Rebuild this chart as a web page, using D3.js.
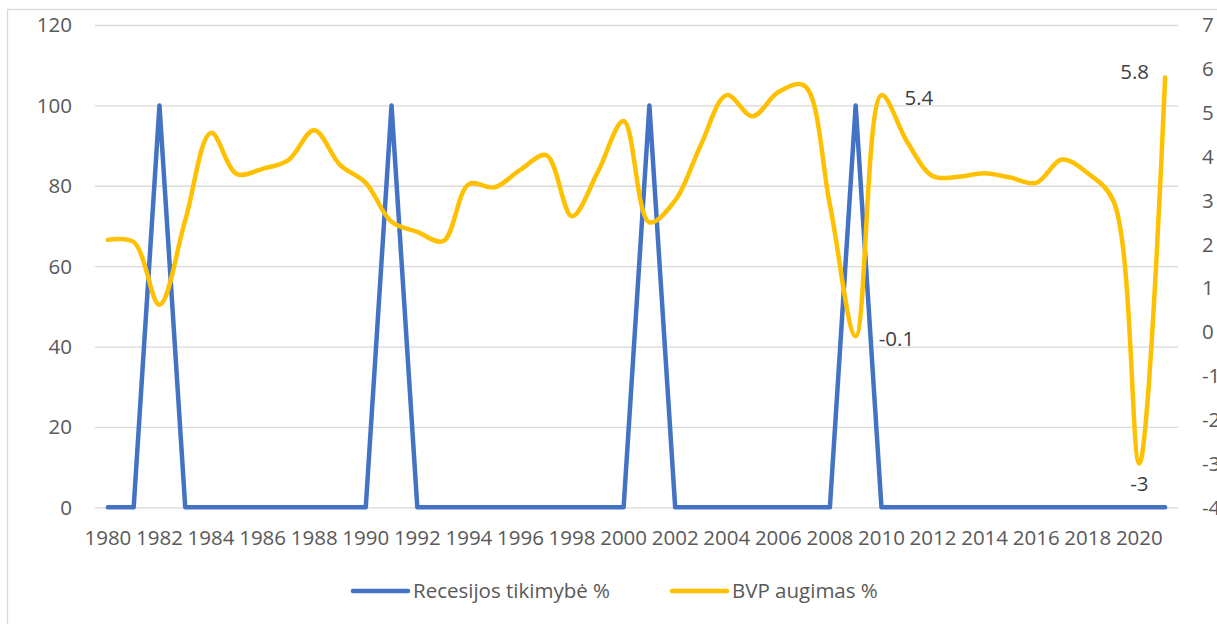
<!DOCTYPE html>
<meta charset="utf-8">
<html>
<head>
  <script src="https://d3js.org/d3.v7.min.js"></script>
  <style>
    body { margin: 0; background: #fff; }
    text { font-family: 'Open Sans', sans-serif; }
    .tick-label { font-size: 20.5px; fill: #595959; }
    .data-label { font-size: 20.5px; fill: #404040; }
    .legend-label { font-size: 20.5px; fill: #595959; }
    .grid line { stroke: #d9d9d9; stroke-width: 1.3; }
  </style>
</head>
<body>
<script>
  // categories (years)
  var years = d3.range(1980, 2022);

  // recession probability %
  var recession = [0, 0, 100, 0, 0, 0, 0, 0, 0, 0,
                   0, 100, 0, 0, 0, 0, 0, 0, 0, 0,
                   0, 100, 0, 0, 0, 0, 0, 0, 0, 100,
                   0, 0, 0, 0, 0, 0, 0, 0, 0, 0,
                   0, 0];

  // GDP growth %
  var gdp = [2.1, 2.05, 0.62, 2.55, 4.54, 3.6, 3.72, 3.92, 4.6, 3.81,
             3.4, 2.51, 2.28, 2.07, 3.37, 3.3, 3.7, 4.03, 2.64, 3.65,
             4.81, 2.5, 3.0, 4.27, 5.4, 4.92, 5.47, 5.62, 2.9, -0.1,
             5.4, 4.33, 3.55, 3.54, 3.62, 3.52, 3.4, 3.93, 3.62, 2.98,
             -3, 5.8];

  // tick labels
  var leftTicks = [0, 20, 40, 60, 80, 100, 120];
  var rightTicks = [-4, -3, -2, -1, 0, 1, 2, 3, 4, 5, 6, 7];
  var xLabels = years.filter(d => d % 2 === 0);

  // labelled points
  var labelled = [
    { year: 2009, text: "-0.1", pos: "right" },
    { year: 2010, text: "5.4", pos: "right" },
    { year: 2020, text: "-3", pos: "below" },
    { year: 2021, text: "5.8", pos: "left" }
  ];

  var seriesNames = ["Recesijos tikimybė %", "BVP augimas %"];
  var colors = ["#4472C4", "#FFC000"];

  var W = 1217, H = 624;
  var plot = { left: 95, right: 1178, top: 25, bottom: 507.3 };

  var svg = d3.select("body").append("svg")
    .attr("width", W)
    .attr("height", H);

  // chart border (cropped at right/bottom)
  svg.append("rect")
    .attr("x", 7.5).attr("y", 9.5)
    .attr("width", 1240).attr("height", 640)
    .attr("fill", "none")
    .attr("stroke", "#d9d9d9")
    .attr("stroke-width", 1.3);

  var x = d3.scaleBand()
    .domain(years)
    .range([plot.left, plot.right]);

  var yL = d3.scaleLinear()
    .domain([0, 120])
    .range([plot.bottom, plot.top]);

  var yR = d3.scaleLinear()
    .domain([-4, 7])
    .range([plot.bottom, plot.top]);

  var cx = d => x(d) + x.bandwidth() / 2;

  // gridlines
  svg.append("g")
    .attr("class", "grid")
    .attr("transform", `translate(${plot.left},0)`)
    .call(d3.axisLeft(yL).tickValues(leftTicks).tickSize(-(plot.right - plot.left)).tickFormat(""))
    .call(g => g.select(".domain").remove());

  // left axis labels
  svg.append("g")
    .selectAll("text")
    .data(leftTicks)
    .enter()
    .append("text")
    .attr("class", "tick-label")
    .attr("x", 72)
    .attr("y", d => yL(d))
    .attr("dy", "0.36em")
    .attr("text-anchor", "end")
    .text(d => d);

  // right axis labels (cut by the picture edge, as in the original)
  svg.append("g")
    .selectAll("text")
    .data(rightTicks)
    .enter()
    .append("text")
    .attr("class", "tick-label")
    .attr("x", 1202)
    .attr("y", d => yR(d))
    .attr("dy", "0.36em")
    .text(d => d);

  // x labels
  svg.append("g")
    .selectAll("text")
    .data(xLabels)
    .enter()
    .append("text")
    .attr("class", "tick-label")
    .attr("x", d => cx(d))
    .attr("y", 538)
    .attr("dy", "0.36em")
    .attr("text-anchor", "middle")
    .text(d => d);

  // recession line (straight)
  var lineL = d3.line()
    .x((d, i) => cx(years[i]))
    .y(d => yL(d));

  svg.append("path")
    .datum(recession)
    .attr("d", lineL)
    .attr("fill", "none")
    .attr("stroke", colors[0])
    .attr("stroke-width", 4.5)
    .attr("stroke-linejoin", "round")
    .attr("stroke-linecap", "round");

  // GDP line (smoothed)
  var lineR = d3.line()
    .x((d, i) => cx(years[i]))
    .y(d => yR(d))
    .curve(d3.curveCatmullRom.alpha(0.5));

  svg.append("path")
    .datum(gdp)
    .attr("d", lineR)
    .attr("fill", "none")
    .attr("stroke", colors[1])
    .attr("stroke-width", 4.5)
    .attr("stroke-linejoin", "round")
    .attr("stroke-linecap", "round");

  // data labels
  svg.append("g")
    .selectAll("text")
    .data(labelled)
    .enter()
    .append("text")
    .attr("class", "data-label")
    .attr("x", d => {
      var px = cx(d.year);
      if (d.pos === "right") return px + 23;
      if (d.pos === "left") return px - 16;
      return px;
    })
    .attr("y", d => {
      var v = gdp[years.indexOf(d.year)];
      var py = yR(v);
      if (d.pos === "below") return py + 20;
      if (d.pos === "left") return py - 6;
      return py + 2;
    })
    .attr("dy", "0.36em")
    .attr("text-anchor", d => d.pos === "left" ? "end" : d.pos === "below" ? "middle" : "start")
    .text(d => d.text);

  // legend
  var legendX = [353, 672];
  var leg = svg.append("g")
    .selectAll("g")
    .data(seriesNames)
    .enter()
    .append("g")
    .attr("transform", (d, i) => `translate(${legendX[i]}, 591)`);

  leg.append("line")
    .attr("x1", 0).attr("x2", 55)
    .attr("stroke", (d, i) => colors[i])
    .attr("stroke-width", 4.5)
    .attr("stroke-linecap", "round");

  leg.append("text")
    .attr("class", "legend-label")
    .attr("x", 60)
    .attr("dy", "0.36em")
    .text(d => d);
</script>
</body>
</html>
